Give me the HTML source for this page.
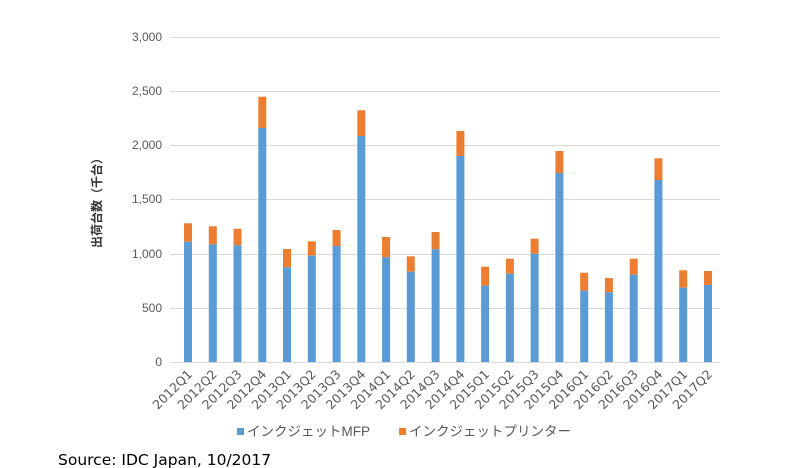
<!DOCTYPE html>
<html><head><meta charset="utf-8"><style>
body{margin:0;background:#fff;width:811px;height:468px;overflow:hidden}
svg{display:block;font-family:"Liberation Sans","Noto Sans CJK JP",sans-serif}
</style></head><body>
<svg width="811" height="468" xmlns="http://www.w3.org/2000/svg">
<g stroke="#d9d9d9" stroke-width="1">
<line x1="170" x2="720" y1="37.5" y2="37.5"/><line x1="170" x2="720" y1="91.5" y2="91.5"/>
<line x1="170" x2="720" y1="145.5" y2="145.5"/><line x1="170" x2="720" y1="199.5" y2="199.5"/>
<line x1="170" x2="720" y1="254.5" y2="254.5"/><line x1="170" x2="720" y1="308.5" y2="308.5"/>
<line x1="170" x2="720" y1="362.5" y2="362.5"/>
</g>
<g font-size="12" fill="#595959" text-anchor="end">
<text x="162" y="41">3,000</text><text x="162" y="95">2,500</text><text x="162" y="149">2,000</text>
<text x="162" y="203">1,500</text><text x="162" y="258">1,000</text><text x="162" y="312">500</text><text x="162" y="366">0</text>
</g>
<text transform="translate(101,200) rotate(-90)" font-size="12" font-weight="bold" fill="#333" text-anchor="middle">出荷台数（千台）</text>
<g fill="#ed7d31">
<rect x="184" y="223.3" width="8" height="18.4"/>
<rect x="208.8" y="226.3" width="8" height="18"/>
<rect x="233.5" y="228.7" width="8" height="16.6"/>
<rect x="258.3" y="96.7" width="8" height="31.3"/>
<rect x="283" y="249" width="8" height="18.3"/>
<rect x="307.8" y="241.3" width="8" height="14.4"/>
<rect x="332.6" y="230" width="8" height="16"/>
<rect x="357.3" y="110.3" width="8" height="25.7"/>
<rect x="382.1" y="237" width="8" height="20.3"/>
<rect x="406.8" y="256.3" width="8" height="15.4"/>
<rect x="431.6" y="232" width="8" height="17.3"/>
<rect x="456.4" y="131" width="8" height="25"/>
<rect x="481.1" y="266.7" width="8" height="19"/>
<rect x="505.9" y="258.7" width="8" height="15"/>
<rect x="530.6" y="238.7" width="8" height="15"/>
<rect x="555.4" y="151" width="8" height="22"/>
<rect x="580.2" y="272.7" width="8" height="18"/>
<rect x="604.9" y="278" width="8" height="14.3"/>
<rect x="629.7" y="258.7" width="8" height="16"/>
<rect x="654.4" y="158.3" width="8" height="21.7"/>
<rect x="679.2" y="270.3" width="8" height="17.4"/>
<rect x="704" y="271" width="8" height="14"/>
</g>
<g fill="#5b9bd5">
<rect x="184" y="241.7" width="8" height="120.3"/>
<rect x="208.8" y="244.3" width="8" height="117.7"/>
<rect x="233.5" y="245.3" width="8" height="116.7"/>
<rect x="258.3" y="128" width="8" height="234"/>
<rect x="283" y="267.3" width="8" height="94.7"/>
<rect x="307.8" y="255.7" width="8" height="106.3"/>
<rect x="332.6" y="246" width="8" height="116"/>
<rect x="357.3" y="136" width="8" height="226"/>
<rect x="382.1" y="257.3" width="8" height="104.7"/>
<rect x="406.8" y="271.7" width="8" height="90.3"/>
<rect x="431.6" y="249.3" width="8" height="112.7"/>
<rect x="456.4" y="156" width="8" height="206"/>
<rect x="481.1" y="285.7" width="8" height="76.3"/>
<rect x="505.9" y="273.7" width="8" height="88.3"/>
<rect x="530.6" y="253.7" width="8" height="108.3"/>
<rect x="555.4" y="173" width="8" height="189"/>
<rect x="580.2" y="290.7" width="8" height="71.3"/>
<rect x="604.9" y="292.3" width="8" height="69.7"/>
<rect x="629.7" y="274.7" width="8" height="87.3"/>
<rect x="654.4" y="180" width="8" height="182"/>
<rect x="679.2" y="287.7" width="8" height="74.3"/>
<rect x="704" y="285" width="8" height="77"/>
</g>
<g font-size="12.5" fill="#595959" text-anchor="end" font-family="DejaVu Sans, sans-serif">
<text transform="translate(193,375) rotate(-45)">2012Q1</text>
<text transform="translate(217.8,375) rotate(-45)">2012Q2</text>
<text transform="translate(242.5,375) rotate(-45)">2012Q3</text>
<text transform="translate(267.3,375) rotate(-45)">2012Q4</text>
<text transform="translate(292,375) rotate(-45)">2013Q1</text>
<text transform="translate(316.8,375) rotate(-45)">2013Q2</text>
<text transform="translate(341.6,375) rotate(-45)">2013Q3</text>
<text transform="translate(366.3,375) rotate(-45)">2013Q4</text>
<text transform="translate(391.1,375) rotate(-45)">2014Q1</text>
<text transform="translate(415.8,375) rotate(-45)">2014Q2</text>
<text transform="translate(440.6,375) rotate(-45)">2014Q3</text>
<text transform="translate(465.4,375) rotate(-45)">2014Q4</text>
<text transform="translate(490.1,375) rotate(-45)">2015Q1</text>
<text transform="translate(514.9,375) rotate(-45)">2015Q2</text>
<text transform="translate(539.6,375) rotate(-45)">2015Q3</text>
<text transform="translate(564.4,375) rotate(-45)">2015Q4</text>
<text transform="translate(589.2,375) rotate(-45)">2016Q1</text>
<text transform="translate(613.9,375) rotate(-45)">2016Q2</text>
<text transform="translate(638.7,375) rotate(-45)">2016Q3</text>
<text transform="translate(663.4,375) rotate(-45)">2016Q4</text>
<text transform="translate(688.2,375) rotate(-45)">2017Q1</text>
<text transform="translate(713,375) rotate(-45)">2017Q2</text>
</g>
<rect x="237" y="428" width="7" height="7" fill="#5b9bd5"/>
<text x="247" y="436" font-size="13.5" fill="#595959">インクジェットMFP</text>
<rect x="399" y="428" width="7" height="7" fill="#ed7d31"/>
<text x="409" y="436" font-size="13.5" fill="#595959">インクジェットプリンター</text>
<text x="58" y="465" font-size="15.5" fill="#000" font-family="DejaVu Sans, sans-serif">Source: IDC Japan, 10/2017</text>
</svg>
</body></html>
